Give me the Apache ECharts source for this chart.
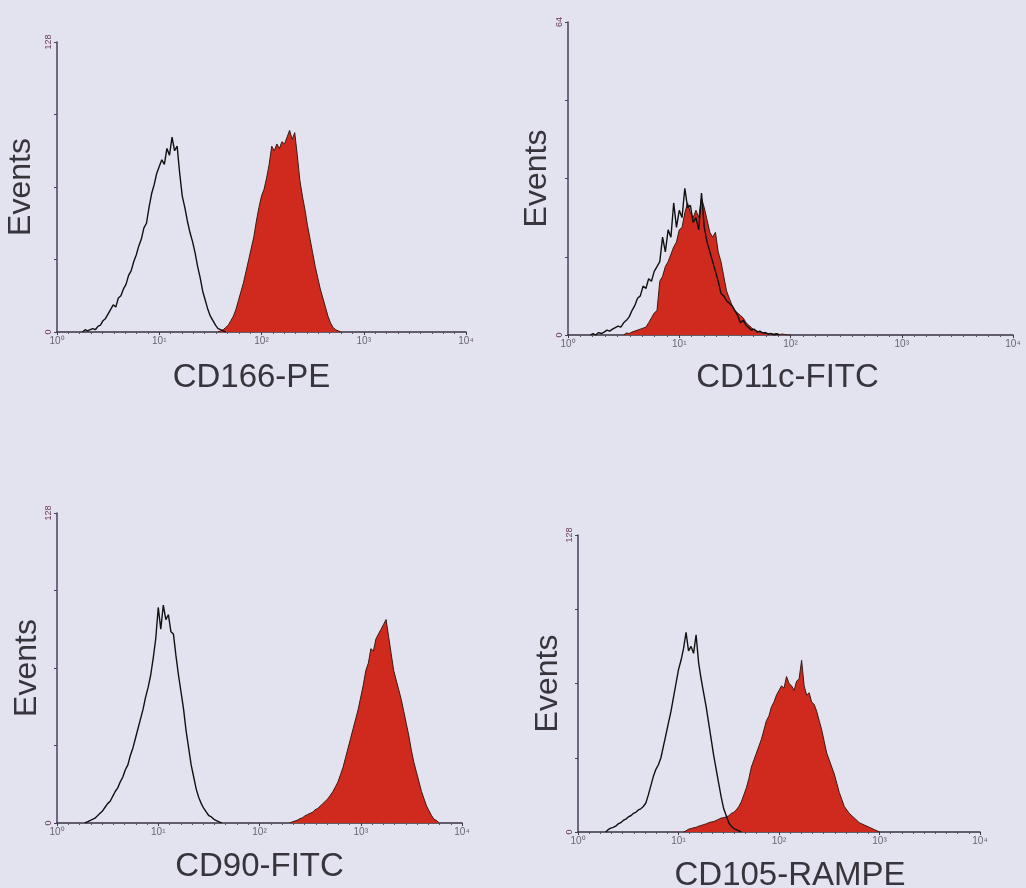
<!DOCTYPE html>
<html>
<head>
<meta charset="utf-8">
<script src="https://cdn.jsdelivr.net/npm/echarts@6/dist/echarts.min.js"></script>
<style>
html,body{margin:0;padding:0;background:#e2e3ee;}
#c{width:1026px;height:888px;}
</style>
</head>
<body>
<div id="c"></div>
<script>
// bin width in decades (log10 units); x positions = start + i*binStep
const binStep = 0.025;
const xTickLabels = ['10\u2070','10\u00b9','10\u00b2','10\u00b3','10\u2074'];
const panelTitles = ['CD166-PE','CD11c-FITC','CD90-FITC','CD105-RAMPE'];
const yMax = [128, 64, 128, 128];

// Panel 1: CD166-PE
const p1CtrlStart = 0.25;
const p1Ctrl = [0,1,0.5,1,1.5,1,2.5,3,5,6,8,10,12,11,15,16,19,21,25,27,31,34,38,41,46,48,55,61,65,70,73,76,74,81,78,86,80,82,70,60,55,49,44,40,35,29,24,18,14,10,7,5,3,1.5,1,0.5,0];
const p1StainStart = 1.575;
const p1Stain = [0,0.5,1,2,3,5,7,10,14,18,22,27,32,37,42,49,55,60,63,68,74,82,80,83,81,84,83,86,89,85,88,78,67,60,54,47,41,35,29,24,19,15,11,7,4,2,1,0.5,0];

// Panel 2: CD11c-FITC
const p2CtrlStart = 0.2;
const p2Ctrl = [0,0.3,0,0.5,0.3,0.6,1,0.8,1.2,1.5,1.8,1.6,2.5,3,3.7,5,6,7.5,8,10,9.5,11.5,11,13,14,15,20,17,21.5,20,27,22,25.5,24,30,26,26.5,23,24,21.5,29,22,19,17,15,13,11,8.5,8,7,6.5,6,5,4,2.5,3,2,1.5,1,1.2,0.6,0.8,0.4,0.5,0.2,0.3,0,0.2,0];
const p2StainStart = 0.5;
const p2Stain = [0,0.4,0.3,0.6,0.8,1,1.2,1.4,1.6,2.5,3.5,4.5,5,11,12,14,15,16.5,18,19,21.5,22,25,27,25,24,25.5,24,28,26,23.5,21,20,21,17,15,12,9,7.5,6,5,4.5,4,3.5,2.5,2,1.5,1,0.8,0.6,0.5,0.4,0.3,0.3,0.2,0.3,0.1,0.2,0.1,0,0];

// Panel 3: CD90-FITC
const p3CtrlStart = 0.275;
const p3Ctrl = [0,0.5,1,1.5,2,3,4,5,6.5,8,9,11,13,14.5,17,19,22,24,28,31,35,39,43,47,52,56,61,68,76,89,80,90,84,86,79,78,69,61,54,47,38,31,24,19,14,10.5,8,6,4.5,3,2.5,1.5,1,0.5,0];
const p3StainStart = 2.3;
const p3Stain = [0,0.5,0.8,1.2,1.8,2.2,3,3.5,4,4.5,5.5,6,7,8,9,10,11.5,13,15,17,20,23,27,31,35,39,43,47,52,57,63,66,72,71,76,78,80,82,84,77,70,63,59,55,51,46,41,36,30,25,21,17,13,10,7,5,3,1.5,1,0];

// Panel 4: CD105-RAMPE
const p4CtrlStart = 0.275;
const p4Ctrl = [0,1,1.7,2,2.5,3.5,4,5,5.5,6.5,7,8,8.5,9.5,10,11,12.5,16,20,24,27,29,32,37,42,47,52,58,64,70,74,79,86,78,80,77,85,73,66,60,54,47,40,33,27,21,15,10,7,4,2.5,1.5,1,0.5,0];
const p4StainStart = 1.05;
const p4Stain = [0,0.5,1.2,1.5,1.8,2,2.5,2.8,3.2,3.5,4,4.3,4.5,5,5.5,6,6.2,6.5,7,8,8.5,9.5,11,13,16,19,23,28,31,34,37,40,44,48,50,54,56,59,61,63,62,67,64,63,61,65,66,74,63,59,60,56,55,52,48,44,39,34,31,28,25,21,17,14,11,9.5,8,7,6,5,4,3.5,3,2.5,2,1.5,1,0.5,0];

function toPairs(start, counts){ return counts.map((c,i)=>[+(start+i*binStep).toFixed(4), c]); }

const grids = [
  {left:57, top:42, width:409, height:290, outerBoundsMode:'none', containLabel:false},
  {left:568, top:22, width:445, height:313, outerBoundsMode:'none', containLabel:false},
  {left:57, top:513, width:405, height:310, outerBoundsMode:'none', containLabel:false},
  {left:578, top:535, width:402, height:297, outerBoundsMode:'none', containLabel:false}
];
const namePad = [[0,20,0,0],[0,6,0,0],[0,0,0,0],[0,0,0,22]];
const xNameGap = [29,26,27,27];
const yNameGap = [20,15,13,14];

const FONT = '"Liberation Sans", Arial, sans-serif';
const xAxes = grids.map((g,i)=>({
  gridIndex:i, type:'value', min:0, max:4, interval:1,
  axisLine:{show:true, lineStyle:{color:'#3a3340', width:1.5}},
  axisTick:{show:true, length:3, lineStyle:{color:'#3a3340'}},
  minorTick:{show:true, splitNumber:9, length:2, lineStyle:{color:'#55505a'}},
  splitLine:{show:false},
  axisLabel:{formatter:v=>xTickLabels[Math.round(v)], fontSize:10, color:'#6a6670', margin:4, fontFamily:FONT},
  name:panelTitles[i], nameLocation:'middle', nameGap:xNameGap[i],
  nameTextStyle:{fontSize:33, color:'#38343c', fontFamily:FONT, padding:namePad[i]}
}));
const yAxes = grids.map((g,i)=>({
  gridIndex:i, type:'value', min:0, max:yMax[i], interval:yMax[i]/4,
  axisLine:{show:true, lineStyle:{color:'#4a3f58', width:1.5}},
  axisTick:{show:true, length:3, lineStyle:{color:'#4a3f58'}},
  splitLine:{show:false},
  axisLabel:{formatter:v=>(v===0||v===yMax[i])?String(v):'', rotate:90, fontSize:9, color:'#6a3a55', margin:4, fontFamily:FONT},
  name:'Events', nameLocation:'middle', nameRotate:90, nameGap:yNameGap[i],
  nameTextStyle:{fontSize:32, color:'#38343c', fontFamily:FONT}
}));

const RED = '#d02a1e';
function stain(i, start, counts){
  return {type:'line', xAxisIndex:i, yAxisIndex:i, data:toPairs(start,counts), symbol:'none',
    lineStyle:{color:'#3a1a14', width:1}, areaStyle:{color:RED, opacity:1}, z:2, silent:true};
}
function ctrl(i, start, counts){
  return {type:'line', xAxisIndex:i, yAxisIndex:i, data:toPairs(start,counts), symbol:'none',
    lineStyle:{color:'#111111', width:1.4}, z:3, silent:true};
}

const chart = echarts.init(document.getElementById('c'), null, {renderer:'canvas'});
chart.setOption({
  backgroundColor:'#e2e3ee',
  animation:false,
  grid:grids,
  xAxis:xAxes,
  yAxis:yAxes,
  series:[
    stain(0,p1StainStart,p1Stain), ctrl(0,p1CtrlStart,p1Ctrl),
    stain(1,p2StainStart,p2Stain), ctrl(1,p2CtrlStart,p2Ctrl),
    stain(2,p3StainStart,p3Stain), ctrl(2,p3CtrlStart,p3Ctrl),
    stain(3,p4StainStart,p4Stain), ctrl(3,p4CtrlStart,p4Ctrl)
  ]
});
</script>
</body>
</html>
